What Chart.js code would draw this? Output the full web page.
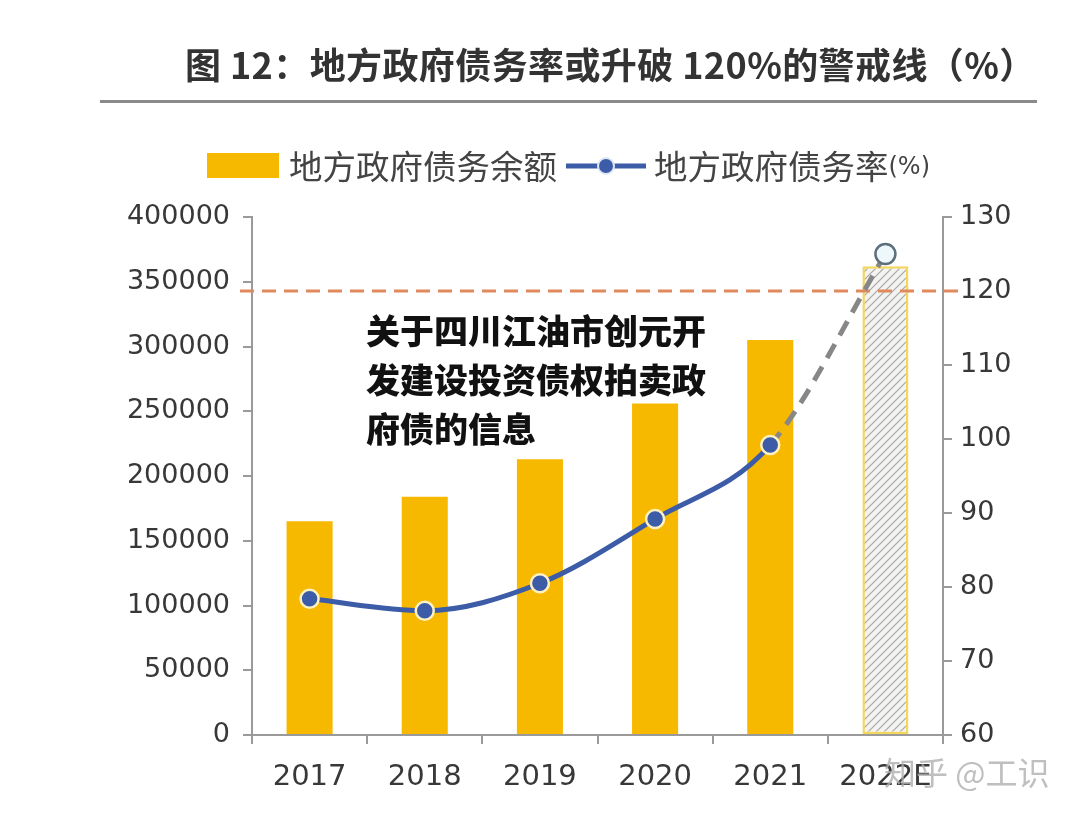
<!DOCTYPE html>
<html>
<head>
<meta charset="utf-8">
<script src="https://cdn.jsdelivr.net/npm/chart.js@4.4.0/dist/chart.umd.min.js"></script>
<style>
  html, body { margin: 0; padding: 0; background: #fff; }
  #wrap { position: relative; width: 1080px; height: 817px; overflow: hidden; }
  #c { position: absolute; left: 0; top: 0; }
  .title { position: absolute; left: 185px; top: 37px; font: bold 36px "Noto Sans CJK SC", sans-serif; color: #333; white-space: nowrap; letter-spacing: 0.4px; }
  .rule { position: absolute; left: 100px; top: 100px; width: 937px; height: 3px; background: #8a8a8a; }
  .overlay { position: absolute; left: 366px; top: 305px; width: 380px; font: 900 34px "Noto Sans CJK SC", sans-serif; line-height: 49px; color: #111; }
  .wm { position: absolute; left: 884px; top: 748px; font: 32px "Noto Sans CJK SC", sans-serif; color: rgba(175,175,175,0.8); white-space: nowrap; }
</style>
</head>
<body>
<div id="wrap">
  <canvas id="c" width="1080" height="817"></canvas>
  <div class="title">图 12：地方政府债务率或升破 120%的警戒线（%）</div>
  <div class="rule"></div>
  <div class="overlay">关于四川江油市创元开<br>发建设投资债权拍卖政<br>府债的信息</div>
  <div class="wm">知乎 @工识</div>
</div>
<script>
const categories = ['2017', '2018', '2019', '2020', '2021', '2022E'];
const debtBalance = [165000, 184000, 213000, 256000, 305000, 362000];
const debtRatio = [78.4, 76.8, 80.5, 89.2, 99.2, 125.0];
const leftTicks = [0, 50000, 100000, 150000, 200000, 250000, 300000, 350000, 400000];
const rightTicks = [60, 70, 80, 90, 100, 110, 120, 130];
const warningLevel = 120;
const seriesLabels = ['地方政府债务余额', '地方政府债务率'];

const YELLOW = '#f7b900';
const BLUE = '#3c5ca8';

function hatch() {
  const p = document.createElement('canvas');
  p.width = 8; p.height = 8;
  const g = p.getContext('2d');
  g.fillStyle = '#f3f3f1';
  g.fillRect(0, 0, 8, 8);
  g.strokeStyle = '#a8a8a8';
  g.lineWidth = 1.2;
  g.beginPath();
  g.moveTo(0, 8); g.lineTo(8, 0);
  g.moveTo(-2, 2); g.lineTo(2, -2);
  g.moveTo(6, 10); g.lineTo(10, 6);
  g.stroke();
  return g.createPattern(p, 'repeat');
}

const ctx = document.getElementById('c').getContext('2d');
const pat = hatch();

const warningPlugin = {
  id: 'warning',
  afterDatasetDraw(chart, args) {
    if (args.index !== 1) return;
    const y = chart.scales.y1.getPixelForValue(warningLevel);
    const c = chart.ctx;
    c.save();
    c.strokeStyle = '#e08a5c';
    c.lineWidth = 3;
    c.setLineDash([14, 8]);
    c.beginPath();
    c.moveTo(chart.chartArea.left - 12, y);
    c.lineTo(chart.chartArea.right + 16, y);
    c.stroke();
    c.restore();
  }
};

const legendPlugin = {
  id: 'customLegend',
  afterDraw(chart) {
    const c = chart.ctx;
    c.save();
    const yMid = 166;
    c.fillStyle = YELLOW;
    c.fillRect(207, 153, 72, 25);
    c.fillStyle = '#444';
    c.font = '33.5px "Noto Sans CJK SC", sans-serif';
    c.textBaseline = 'middle';
    c.fillText(seriesLabels[0], 289, yMid);
    c.strokeStyle = BLUE;
    c.lineWidth = 5;
    c.beginPath(); c.moveTo(566, yMid); c.lineTo(646, yMid); c.stroke();
    c.beginPath(); c.arc(606, yMid, 8, 0, Math.PI * 2);
    c.fillStyle = BLUE; c.fill();
    c.lineWidth = 2; c.strokeStyle = '#dfe6f5'; c.stroke();
    c.fillStyle = '#444';
    c.font = '33.5px "Noto Sans CJK SC", sans-serif';
    c.fillText(seriesLabels[1], 654, yMid);
    const w = c.measureText(seriesLabels[1]).width;
    c.font = '24px "DejaVu Sans", sans-serif';
    c.fillText('(%)', 654 + w, yMid + 2);
    c.restore();
  }
};

const tickFont = { family: '"DejaVu Sans", sans-serif', size: 27 };

new Chart(ctx, {
  data: {
    labels: categories,
    datasets: [
      {
        type: 'line',
        label: seriesLabels[1],
        data: debtRatio,
        yAxisID: 'y1',
        order: 0,
        borderColor: BLUE,
        borderWidth: 5,
        cubicInterpolationMode: 'monotone',
        pointRadius: [9, 9, 9, 9, 9, 10],
        pointBorderWidth: [2.5, 2.5, 2.5, 2.5, 2.5, 2.5],
        pointBackgroundColor: [BLUE, BLUE, BLUE, BLUE, BLUE, '#eef7fa'],
        pointBorderColor: ['#fff1c0', '#fff1c0', '#fff1c0', '#fff1c0', '#fff1c0', '#5d6f7d'],
        segment: {
          borderColor: s => s.p1DataIndex === 5 ? '#878787' : undefined,
          borderDash: s => s.p1DataIndex === 5 ? [16, 10] : undefined
        }
      },
      {
        type: 'bar',
        label: seriesLabels[0],
        data: debtBalance,
        yAxisID: 'y',
        order: 1,
        backgroundColor: [YELLOW, YELLOW, YELLOW, YELLOW, YELLOW, pat],
        borderColor: ['rgba(0,0,0,0)', 'rgba(0,0,0,0)', 'rgba(0,0,0,0)', 'rgba(0,0,0,0)', 'rgba(0,0,0,0)', '#f2d65e'],
        borderWidth: [0, 0, 0, 0, 0, 2.5],
        borderSkipped: false,
        barPercentage: 0.4,
        categoryPercentage: 1
      }
    ]
  },
  options: {
    responsive: false,
    animation: false,
    layout: { padding: { top: 217, left: 0, right: 0, bottom: 0 } },
    plugins: { legend: { display: false }, tooltip: { enabled: false }, title: { display: false } },
    scales: {
      x: {
        offset: true,
        grid: { display: true, offset: true, drawOnChartArea: false, tickLength: 9, color: '#9a9a9a', lineWidth: 2 },
        border: { color: '#9a9a9a', width: 2 },
        ticks: { font: { family: '"DejaVu Sans", sans-serif', size: 29 }, color: '#383838', padding: 16 },
        afterFit: s => { s.height = 82; }
      },
      y: {
        position: 'left',
        min: 0, max: 400000,
        afterBuildTicks: s => { s.ticks = leftTicks.map(v => ({ value: v })); },
        ticks: { font: tickFont, color: '#383838', padding: 13, callback: v => String(v) },
        grid: { drawOnChartArea: false, tickLength: 9, color: '#9a9a9a', lineWidth: 2 },
        border: { color: '#9a9a9a', width: 2 },
        afterFit: s => { s.width = 252; }
      },
      y1: {
        position: 'right',
        min: 60, max: 130,
        afterBuildTicks: s => { s.ticks = rightTicks.map(v => ({ value: v })); },
        ticks: { font: tickFont, color: '#383838', padding: 8, callback: v => String(v) },
        grid: { drawOnChartArea: false, tickLength: 9, color: '#9a9a9a', lineWidth: 2 },
        border: { color: '#9a9a9a', width: 2 },
        afterFit: s => { s.width = 137; }
      }
    }
  },
  plugins: [warningPlugin, legendPlugin]
});
</script>
</body>
</html>
